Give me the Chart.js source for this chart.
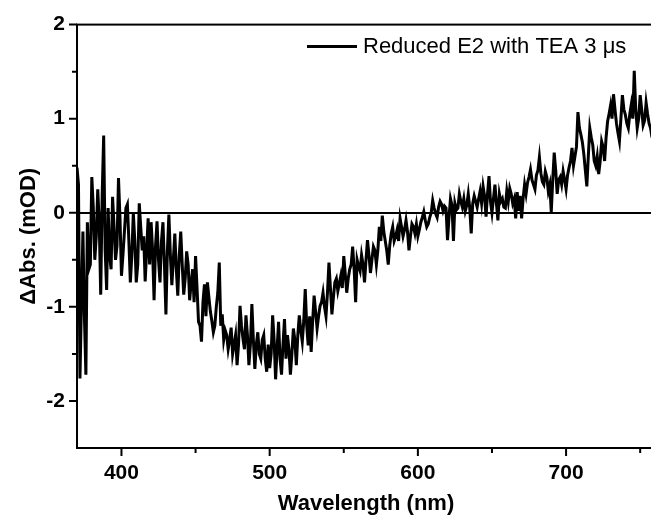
<!DOCTYPE html>
<html>
<head>
<meta charset="utf-8">
<script src="https://cdn.jsdelivr.net/npm/chart.js@4/dist/chart.umd.min.js"></script>
<style>
  html, body { margin: 0; padding: 0; background: #fff; overflow: hidden; }
  #wrap { width: 660px; height: 517px; }
</style>
</head>
<body>
<div id="wrap"><canvas id="c" width="660" height="517"></canvas></div>
<script>
// Transient absorption spectrum, 3 µs after excitation
const seriesLabel = 'Reduced E2 with TEA 3 \u03bcs';

const wavelengths = [
  370,371,372,373,374,375,376,377,378,379,
  380,381,382,383,384,385,386,387,388,389,
  390,391,392,393,394,395,396,397,398,399,
  400,401,402,403,404,405,406,407,408,409,
  410,411,412,413,414,415,416,417,418,419,
  420,421,422,423,424,425,426,427,428,429,
  430,431,432,433,434,435,436,437,438,439,
  440,441,442,443,444,445,446,447,448,449,
  450,451,452,453,454,455,456,457,458,459,
  460,461,462,463,464,465,466,467,468,469,
  470,471,472,473,474,475,476,477,478,479,
  480,481,482,483,484,485,486,487,488,489,
  490,491,492,493,494,495,496,497,498,499,
  500,501,502,503,504,505,506,507,508,509,
  510,511,512,513,514,515,516,517,518,519,
  520,521,522,523,524,525,526,527,528,529,
  530,531,532,533,534,535,536,537,538,539,
  540,541,542,543,544,545,546,547,548,549,
  550,551,552,553,554,555,556,557,558,559,
  560,561,562,563,564,565,566,567,568,569,
  570,571,572,573,574,575,576,577,578,579,
  580,581,582,583,584,585,586,587,588,589,
  590,591,592,593,594,595,596,597,598,599,
  600,601,602,603,604,605,606,607,608,609,
  610,611,612,613,614,615,616,617,618,619,
  620,621,622,623,624,625,626,627,628,629,
  630,631,632,633,634,635,636,637,638,639,
  640,641,642,643,644,645,646,647,648,649,
  650,651,652,653,654,655,656,657,658,659,
  660,661,662,663,664,665,666,667,668,669,
  670,671,672,673,674,675,676,677,678,679,
  680,681,682,683,684,685,686,687,688,689,
  690,691,692,693,694,695,696,697,698,699,
  700,701,702,703,704,705,706,707,708,709,
  710,711,712,713,714,715,716,717,718,719,
  720,721,722,723,724,725,726,727,728,729,
  730,731,732,733,734,735,736,737,738,739,
  740,741,742,743,744,745,746,747,748,749,
  750,751,752,753,754,755,756,757,758
];

// ΔAbs in mOD
const deltaAbs = [
  0.48,0.30,-1.76,-0.95,-0.20,-1.10,-1.72,-0.10,-0.60,-0.55,
  0.38,0.05,-0.50,-0.25,0.25,-0.10,-0.87,0.20,0.82,-0.40,
  -0.82,0.05,-0.45,-0.60,0.17,-0.15,-0.50,-0.35,0.37,-0.05,
  -0.67,-0.45,-0.20,0.05,0.09,-0.30,-0.74,-0.45,0.00,-0.30,
  -0.74,-0.55,0.10,-0.15,-0.40,-0.25,-0.73,-0.40,-0.06,-0.55,
  -0.10,-0.40,-0.93,-0.35,-0.09,-0.50,-0.74,-0.30,-0.10,-0.55,
  -1.08,-0.40,-0.02,-0.45,-0.77,-0.50,-0.22,-0.60,-0.88,-0.45,
  -0.20,-0.55,-0.87,-0.70,-0.41,-0.55,-0.93,-0.75,-0.60,-0.95,
  -0.46,-0.80,-1.16,-1.20,-1.37,-0.95,-0.76,-1.10,-0.74,-0.90,
  -1.05,-1.15,-1.27,-1.20,-1.00,-0.85,-0.53,-1.20,-1.08,-1.35,
  -1.25,-1.30,-1.45,-1.35,-1.22,-1.50,-1.40,-1.30,-1.62,-1.40,
  -0.99,-1.20,-1.34,-1.45,-1.09,-1.30,-1.62,-1.40,-0.97,-1.35,
  -1.66,-1.40,-1.27,-1.50,-1.55,-1.35,-1.30,-1.55,-1.69,-1.40,
  -1.65,-1.50,-1.09,-1.35,-1.77,-1.45,-1.16,-1.55,-1.72,-1.40,
  -1.13,-1.55,-1.30,-1.45,-1.72,-1.50,-1.23,-1.35,-1.62,-1.30,
  -1.09,-1.25,-1.37,-1.15,-0.81,-1.20,-1.41,-1.10,-1.48,-1.15,
  -0.88,-1.05,-1.23,-1.10,-0.99,-0.95,-0.85,-1.00,-1.10,-0.85,
  -0.53,-0.80,-1.08,-0.90,-0.74,-0.70,-0.83,-0.75,-0.67,-0.80,
  -0.46,-0.65,-0.85,-0.70,-0.60,-0.55,-0.36,-0.60,-0.95,-0.50,
  -0.57,-0.62,-0.45,-0.55,-0.74,-0.50,-0.29,-0.45,-0.64,-0.50,
  -0.36,-0.40,-0.55,-0.40,-0.15,-0.30,-0.03,-0.20,-0.30,-0.40,
  -0.55,-0.35,-0.22,-0.15,-0.30,-0.25,-0.18,-0.30,-0.06,-0.15,
  -0.25,-0.18,-0.08,-0.20,-0.40,-0.25,-0.12,-0.15,-0.22,-0.12,
  -0.25,-0.18,-0.10,-0.05,0.01,-0.08,-0.15,-0.12,-0.05,0.00,
  0.13,0.05,-0.01,-0.05,0.06,0.12,0.09,0.02,0.07,0.05,
  -0.29,-0.05,0.15,0.08,-0.30,0.10,0.03,0.05,0.20,0.12,
  0.06,0.15,0.02,0.08,0.20,0.05,-0.22,0.10,0.18,0.12,
  0.06,0.15,0.23,0.10,0.28,0.18,-0.04,0.20,0.39,0.12,
  0.00,0.15,0.30,0.10,-0.08,0.20,0.12,0.15,0.06,0.05,
  0.23,0.12,0.26,0.20,0.10,0.15,-0.06,0.22,0.02,0.18,
  -0.06,0.15,0.30,0.20,0.32,0.38,0.46,0.35,0.30,0.25,
  0.40,0.45,0.59,0.42,0.33,0.30,0.44,0.38,0.23,0.30,
  0.01,0.35,0.64,0.45,0.20,0.35,0.38,0.30,0.44,0.35,
  0.25,0.40,0.48,0.55,0.69,0.50,0.60,0.70,1.07,0.90,
  0.83,0.75,0.62,0.45,0.28,0.60,0.90,0.80,0.72,0.55,
  0.50,0.60,0.41,0.55,0.76,0.70,0.55,0.80,0.97,1.05,
  1.14,1.00,1.26,1.10,0.95,0.85,0.76,1.00,1.25,1.10,
  1.04,0.95,0.90,1.05,1.15,1.00,1.51,1.10,0.90,1.00,
  1.25,1.10,0.93,0.98,1.17,1.05,0.95,0.90,0.80
];

// axis ticks (labelled every 100 nm / 1 mOD, minor ticks in between)
const xTicks = [400, 450, 500, 550, 600, 650, 700, 750];
const yTicks = [-2, -1.5, -1, -0.5, 0, 0.5, 1, 1.5, 2];

const FONT = "'Liberation Sans', Arial, Helvetica, sans-serif";

// frame, outward ticks and legend
const decorations = {
  id: 'decorations',
  afterDraw(chart) {
    const { ctx, chartArea: a, scales } = chart;
    ctx.save();
    ctx.strokeStyle = '#000';
    ctx.lineWidth = 2;
    ctx.strokeRect(a.left, a.top, a.right - a.left, a.bottom - a.top);

    ctx.beginPath();
    scales.x.ticks.forEach(t => {
      const px = scales.x.getPixelForValue(t.value);
      const len = t.value % 100 === 0 ? 8 : 5;
      ctx.moveTo(px, a.bottom);
      ctx.lineTo(px, a.bottom + len);
    });
    scales.y.ticks.forEach(t => {
      const py = scales.y.getPixelForValue(t.value);
      const len = Number.isInteger(t.value) ? 8 : 5;
      ctx.moveTo(a.left - len, py);
      ctx.lineTo(a.left, py);
    });
    ctx.stroke();

    // legend entry
    const ds = chart.data.datasets[0];
    const ly = a.top + 22;
    const lx = a.left + 230;
    ctx.lineWidth = 3;
    ctx.beginPath();
    ctx.moveTo(lx, ly);
    ctx.lineTo(lx + 50, ly);
    ctx.stroke();
    ctx.fillStyle = '#000';
    ctx.font = '22px ' + FONT;
    ctx.textBaseline = 'middle';
    ctx.textAlign = 'left';
    ctx.fillText(ds.label, lx + 56, ly);
    ctx.restore();
  }
};

new Chart(document.getElementById('c'), {
  type: 'line',
  data: {
    datasets: [{
      label: seriesLabel,
      data: wavelengths.map((w, i) => ({ x: w, y: deltaAbs[i] })),
      borderColor: '#000',
      borderWidth: 3,
      pointRadius: 0,
      tension: 0,
      fill: false
    }]
  },
  options: {
    responsive: false,
    animation: false,
    devicePixelRatio: 1,
    layout: { padding: { top: 19, right: 5, left: 0, bottom: 0 } },
    plugins: { legend: { display: false }, tooltip: { enabled: false } },
    scales: {
      x: {
        type: 'linear',
        min: 370,
        max: 760,
        afterBuildTicks: s => { s.ticks = xTicks.map(v => ({ value: v })); },
        afterFit: s => { s.height = 69; },
        grid: { display: false, drawTicks: false },
        border: { display: false },
        ticks: {
          color: '#000',
          padding: 13,
          maxRotation: 0,
          autoSkip: false,
          font: { family: FONT, size: 21, weight: 'bold' },
          callback: v => (v % 100 === 0 ? String(v) : '')
        },
        title: {
          display: true,
          text: 'Wavelength (nm)',
          color: '#000',
          padding: { top: 2, bottom: 0 },
          font: { family: FONT, size: 22, weight: 'bold' }
        }
      },
      y: {
        min: -2.5,
        max: 2,
        afterBuildTicks: s => { s.ticks = yTicks.map(v => ({ value: v })); },
        afterFit: s => { s.width = 77; },
        grid: {
          drawTicks: false,
          lineWidth: 2,
          color: c => (c.tick && c.tick.value === 0 ? '#000' : 'rgba(0,0,0,0)')
        },
        border: { display: false },
        ticks: {
          color: '#000',
          padding: 12,
          autoSkip: false,
          font: { family: FONT, size: 21, weight: 'bold' },
          callback: v => (Number.isInteger(v) ? String(v) : '')
        },
        title: {
          display: true,
          text: '\u0394Abs. (mOD)',
          color: '#000',
          padding: { top: 16, bottom: 0 },
          font: { family: FONT, size: 22, weight: 'bold' }
        }
      }
    }
  },
  plugins: [decorations]
});
</script>
</body>
</html>
